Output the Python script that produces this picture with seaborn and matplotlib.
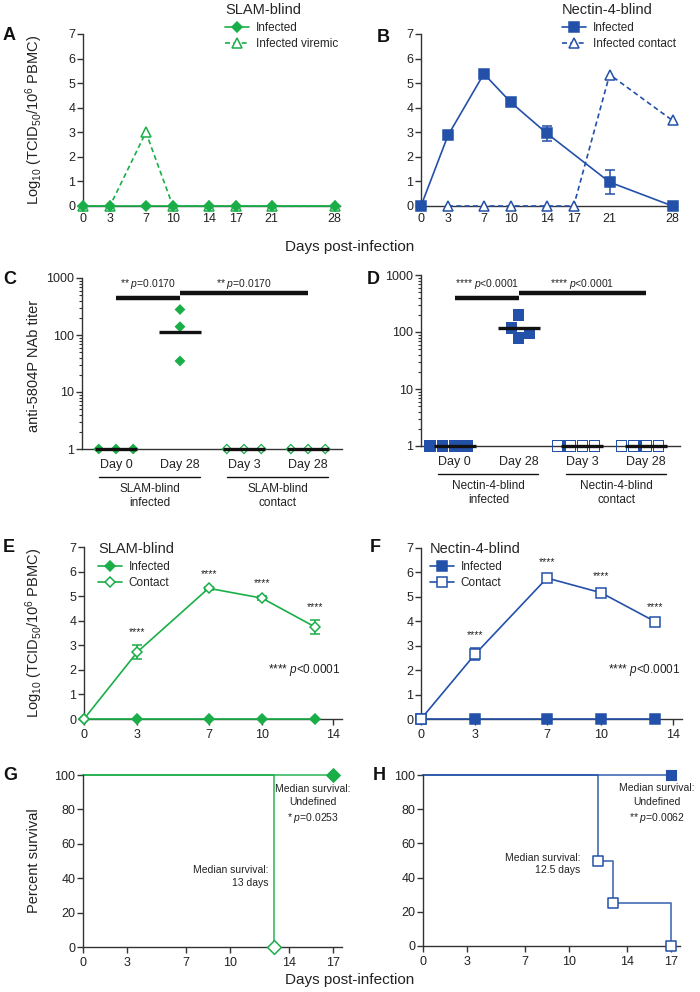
import numpy as np
import pandas as pd
import matplotlib
matplotlib.use("Agg")
import matplotlib.pyplot as plt
import matplotlib.transforms as mtransforms
from matplotlib.path import Path
from matplotlib.ticker import FixedLocator, LogLocator, NullFormatter
import seaborn as sns

sns.set_style("ticks")
plt.rcParams["font.family"] = ["Liberation Sans", "DejaVu Sans"]
plt.rcParams["mathtext.fontset"] = "custom"
plt.rcParams["mathtext.rm"] = "Liberation Sans"
plt.rcParams["mathtext.it"] = "Liberation Sans:italic"
plt.rcParams["mathtext.bf"] = "Liberation Sans:bold"

green = "#1aae48"
blue = "#2350a8"
ink = "#222222"

# --- A / B: viremia (log10 TCID50 / 1e6 PBMC) ---
ab_days = [0, 3, 7, 10, 14, 17, 21, 28]
slam_infected = [0, 0, 0, 0, 0, 0, 0, 0]
slam_viremic = [0, 0, 3.0, 0, 0, 0, 0, 0]
nec_inf_days = [0, 3, 7, 10, 14, 21, 28]
nec_infected = [0, 2.87, 5.38, 4.22, 2.96, 0.97, 0]
nec_infected_err = [0, 0.1, 0.06, 0.1, 0.3, 0.48, 0]
nec_contact_days = [3, 7, 10, 14, 17, 21, 28]
nec_contact = [0, 0, 0, 0, 0, 5.35, 3.48]

# --- C / D: anti-5804P NAb titers ---
nab_groups = ["inf_d0", "inf_d28", "con_d3", "con_d28"]
nab_labels = ["Day 0", "Day 28", "Day 3", "Day 28"]
slam_inf_d0 = [1, 1, 1]
slam_inf_d28 = [280, 140, 35]
slam_con_d3 = [1, 1, 1]
slam_con_d28 = [1, 1, 1]
nec_inf_d0 = [1, 1, 1, 1]
nec_inf_d28 = [200, 116, 97, 79]
nec_con_d3 = [1, 1, 1, 1]
nec_con_d28 = [1, 1, 1, 1]

# --- E / F: contact animals ---
ef_days = [0, 3, 7, 10, 13]
slam_e_infected = [0, 0, 0, 0, 0]
slam_e_contact = [0, 2.73, 5.32, 4.92, 3.74]
slam_e_err = [0, 0.27, 0.05, 0.07, 0.27]
nec_f_infected = [0, 0, 0, 0, 0]
nec_f_contact = [0, 2.65, 5.77, 5.17, 3.99]
nec_f_err = [0, 0.25, 0.12, 0.15, 0.05]

# --- G / H: survival ---
g_inf_t, g_inf_s = [0, 17], [100, 100]
g_con_t, g_con_s = [0, 13], [100, 0]
h_inf_t, h_inf_s = [0, 17], [100, 100]
h_con_t, h_con_s = [0, 12, 13, 17], [100, 50, 25, 0]

W, H = 700, 992
fig = plt.figure(figsize=(7, 9.92), dpi=100)


def add_ax(x0, y0, x1, y1):
    return fig.add_axes([x0 / W, 1 - y1 / H, (x1 - x0) / W, (y1 - y0) / H])


def style(ax, xtick_len=4):
    sns.despine(ax=ax)
    for s in ("left", "bottom"):
        ax.spines[s].set_linewidth(1.0)
        ax.spines[s].set_color("#333333")
    ax.tick_params(axis="y", direction="out", length=4, width=1, pad=1.5,
                   labelsize=9, colors="#333333", labelcolor=ink)
    ax.tick_params(axis="x", direction="out", length=xtick_len, width=1,
                   pad=5 if xtick_len == 0 else 3, labelsize=9, colors="#333333", labelcolor=ink)
    ax.set_xlabel("")
    ax.set_ylabel("")


def series(ax, x, y, color, marker, ms, filled=True, ls="-", label=None):
    sns.lineplot(x=x, y=y, ax=ax, color=color, marker=marker, markersize=ms,
                 markerfacecolor=color if filled else "white", markeredgecolor=color,
                 markeredgewidth=1.1, linestyle=ls, linewidth=1.2, errorbar=None,
                 clip_on=False, label=label, legend=False, zorder=3)


def errbars(ax, x, y, err, color):
    x, y, err = np.array(x), np.array(y), np.array(err)
    m = err > 0
    ax.errorbar(x[m], y[m], yerr=err[m], fmt="none", ecolor=color, elinewidth=1.1,
                capsize=3.5, capthick=1.1, zorder=2, clip_on=False)


def legend(ax, title, x, y, order=None):
    h, l = ax.get_legend_handles_labels()
    if order is not None:
        h = [h[i] for i in order]
        l = [l[i] for i in order]
    ax.legend(h, l, loc="upper left", bbox_to_anchor=(x / W, 1 - y / H), bbox_transform=fig.transFigure,
              frameon=False, title=title, title_fontsize=10.5, fontsize=8.5, handlelength=2.0,
              handletextpad=0.6, labelspacing=0.4, borderpad=0, borderaxespad=0, alignment="left")


ylab_log = r"Log$_{10}$ (TCID$_{50}$/10$^{6}$ PBMC)"

# ---------------- A ----------------
axA = add_ax(83, 34, 340, 206)
series(axA, ab_days, slam_viremic, green, "^", 7.5, filled=False, ls=(0, (3, 2)), label="Infected viremic")
series(axA, ab_days, slam_infected, green, "D", 5.0, label="Infected")
legend(axA, "SLAM-blind", 225, 3, order=[1, 0])
axA.set_xlim(0, 28.6)
axA.set_ylim(0, 7)
axA.set_xticks(ab_days)
axA.set_yticks(range(8))
style(axA, xtick_len=0)

# ---------------- B ----------------
axB = add_ax(421, 34, 677, 206)
errbars(axB, nec_inf_days, nec_infected, nec_infected_err, blue)
series(axB, nec_inf_days, nec_infected, blue, "s", 7.3, label="Infected")
series(axB, nec_contact_days, nec_contact, blue, "^", 7.5, filled=False, ls=(0, (3, 2)), label="Infected contact")
legend(axB, "Nectin-4-blind", 562, 3)
axB.set_xlim(0, 28.5)
axB.set_ylim(0, 7)
axB.set_xticks(ab_days)
axB.set_yticks(range(8))
style(axB, xtick_len=0)

fig.text(350 / W, 1 - 247 / H, "Days post-infection", ha="center", va="center", fontsize=11, color=ink)


# ---------------- C / D ----------------
def ring(kind, inner):
    if kind == "D":
        outer = [(0, 1), (1, 0), (0, -1), (-1, 0)]
    else:
        outer = [(-1, -1), (1, -1), (1, 1), (-1, 1)]
    inn = [(a * inner, b * inner) for a, b in outer[::-1]]
    verts = outer + [outer[0]] + inn + [inn[0]]
    codes = [Path.MOVETO] + [Path.LINETO] * 3 + [Path.CLOSEPOLY]
    return Path(verts, codes + codes)


def solid(kind):
    if kind == "D":
        outer = [(0, 1), (1, 0), (0, -1), (-1, 0)]
    else:
        outer = [(-1, -1), (1, -1), (1, 1), (-1, 1)]
    return Path(outer + [outer[0]], [Path.MOVETO] + [Path.LINETO] * 3 + [Path.CLOSEPOLY])


def nab_panel(ax, groups, color, kind, size, spacing_lw, bars, ptext, group_names):
    df = pd.DataFrame({"group": np.repeat(nab_groups, [len(g) for g in groups]),
                       "titer": np.concatenate(groups)})
    filled_marker = solid(kind)
    open_marker = ring(kind, 0.68 if kind == "D" else 0.78)
    for g in nab_groups:
        sub = df[df["group"] == g]
        sns.swarmplot(data=sub, x="group", y="titer", order=nab_groups, ax=ax, log_scale=True,
                      marker=open_marker if g.startswith("con") else filled_marker,
                      size=size, color=color, edgecolor="none", linewidth=spacing_lw)
    # empty per-category collections would otherwise draw a marker at the figure origin
    for c in list(ax.collections):
        if len(c.get_offsets()) == 0:
            c.remove()
        else:
            c.set_clip_on(False)
            c.set_zorder(3)
    for i, vals in enumerate(groups):
        gm = np.exp(np.mean(np.log(vals)))
        ax.plot([i - 0.33, i + 0.33], [gm, gm], color="#111111", lw=2.4, zorder=5,
                clip_on=False, solid_capstyle="butt")
    (y1, y2, yt) = bars
    ax.plot([0, 1], [y1, y1], color="#111111", lw=3.2, solid_capstyle="butt", clip_on=False)
    ax.plot([1, 3], [y2, y2], color="#111111", lw=3.2, solid_capstyle="butt", clip_on=False)
    ax.text(0.5, yt, ptext, ha="center", va="center", fontsize=7.5, color=ink)
    ax.text(2.0, yt, ptext, ha="center", va="center", fontsize=7.5, color=ink)
    ax.set_yscale("log")
    ax.set_ylim(1, 1000)
    ax.set_xlim(-0.53, 3.53)
    ax.yaxis.set_major_locator(FixedLocator([1, 10, 100, 1000]))
    ax.set_yticklabels(["1", "10", "100", "1000"])
    ax.yaxis.set_minor_locator(LogLocator(base=10, subs=np.arange(2, 10)))
    ax.yaxis.set_minor_formatter(NullFormatter())
    ax.set_xticks(range(4))
    ax.set_xticklabels(nab_labels)
    style(ax, xtick_len=0)
    ax.tick_params(axis="x", pad=7)
    ax.tick_params(axis="y", which="minor", length=2.2, width=0.8, colors="#333333")
    tr = mtransforms.blended_transform_factory(ax.transData, ax.transAxes)
    for (a, b), name, cx in zip([(-0.26, 1.31), (1.74, 3.31)], group_names, [0.53, 2.53]):
        ax.plot([a, b], [-0.164, -0.164], color="#111111", lw=1.0, transform=tr, clip_on=False)
        ax.text(cx, -0.2, name, transform=tr, ha="center", va="top", fontsize=8.5,
                color=ink, linespacing=1.15)


axC = add_ax(82, 278, 342, 449)
nab_panel(axC, [slam_inf_d0, slam_inf_d28, slam_con_d3, slam_con_d28], green, "D", 7.8, 4.0,
          (446, 546, 780), r"** $p$=0.0170", ["SLAM-blind\ninfected", "SLAM-blind\ncontact"])

axD = add_ax(421, 275, 680, 446)
nab_panel(axD, [nec_inf_d0, nec_inf_d28, nec_con_d3, nec_con_d28], blue, "s", 8.4, 0.01,
          (395, 480, 693), r"**** $p$<0.0001", ["Nectin-4-blind\ninfected", "Nectin-4-blind\ncontact"])


# ---------------- E / F ----------------
def contact_panel(ax, inf, con, err, color, marker, ms, title, legx):
    errbars(ax, ef_days, con, err, color)
    series(ax, ef_days, inf, color, marker, ms, label="Infected")
    series(ax, ef_days, con, color, marker, ms, filled=False, label="Contact")
    for d, v, e in zip(ef_days[1:], con[1:], err[1:]):
        ax.annotate("****", (d, v + e), xytext=(0, 6), textcoords="offset points",
                    ha="center", va="bottom", fontsize=7.5, color=ink)
    ax.text(14.4, 2.0, r"**** $p$<0.0001", ha="right", va="center", fontsize=8.5, color=ink)
    legend(ax, title, legx, 542)
    ax.set_xlim(0, 14.5)
    ax.set_ylim(0, 7)
    ax.set_xticks([0, 3, 7, 10, 14])
    ax.set_yticks(range(8))
    style(ax)


axE = add_ax(84, 547, 342, 719)
contact_panel(axE, slam_e_infected, slam_e_contact, slam_e_err, green, "D", 5.0, "SLAM-blind", 98)
axF = add_ax(421, 548, 682, 719)
contact_panel(axF, nec_f_infected, nec_f_contact, nec_f_err, blue, "s", 7.6, "Nectin-4-blind", 430)


# ---------------- G / H ----------------
def survival(ax, it, isv, ct, cs, color, marker, ms):
    for t, s in ((it, isv), (ct, cs)):
        sns.lineplot(x=t, y=s, ax=ax, color=color, drawstyle="steps-post", linewidth=1.2,
                     errorbar=None, estimator=None, clip_on=False, legend=False, alpha=0.85)
    sns.scatterplot(x=it[1:], y=isv[1:], ax=ax, marker=marker, s=ms ** 2, color=color,
                    edgecolor=color, linewidth=0.8, clip_on=False, zorder=5, legend=False)
    sns.scatterplot(x=ct[1:], y=cs[1:], ax=ax, marker=marker, s=ms ** 2, color="white",
                    edgecolor=color, linewidth=1.1, clip_on=False, zorder=5, legend=False)
    ax.set_xlim(0, 17.6)
    ax.set_ylim(0, 100)
    ax.set_xticks([0, 3, 7, 10, 14, 17])
    ax.set_yticks(range(0, 101, 20))
    style(ax)


axG = add_ax(83, 775, 342, 947)
survival(axG, g_inf_t, g_inf_s, g_con_t, g_con_s, green, "D", 7.0)
axG.text(12.6, 41, "Median survival:\n13 days", ha="right", va="center", fontsize=7.5,
         color=ink, multialignment="right", linespacing=1.3)
axG.text(15.6, 83, "Median survival:\nUndefined\n" + r"* $p$=0.0253", ha="center", va="center",
         fontsize=7.5, color=ink, linespacing=1.4)

axH = add_ax(423, 775, 680, 946)
survival(axH, h_inf_t, h_inf_s, h_con_t, h_con_s, blue, "s", 7.6)
axH.text(10.8, 48, "Median survival:\n12.5 days", ha="right", va="center", fontsize=7.5,
         color=ink, multialignment="right", linespacing=1.3)
axH.text(16.0, 83, "Median survival:\nUndefined\n" + r"** $p$=0.0062", ha="center", va="center",
         fontsize=7.5, color=ink, linespacing=1.4)

fig.text(350 / W, 1 - 980 / H, "Days post-infection", ha="center", va="center", fontsize=11, color=ink)

# y labels and panel letters
for yc, txt in ((120, ylab_log), (366, "anti-5804P NAb titer"), (633, ylab_log), (861, "Percent survival")):
    fig.text(34 / W, 1 - yc / H, txt, rotation=90, ha="center", va="center", fontsize=10.5, color=ink)

for x, y, letter in ((3, 35, "A"), (377, 37, "B"), (3, 280, "C"), (367, 279, "D"),
                     (3, 547, "E"), (370, 547, "F"), (3, 775, "G"), (373, 775, "H")):
    fig.text(x / W, 1 - y / H, letter, ha="left", va="center", fontsize=13, fontweight="bold", color="#111111")

fig.savefig("out.png", dpi=100)
